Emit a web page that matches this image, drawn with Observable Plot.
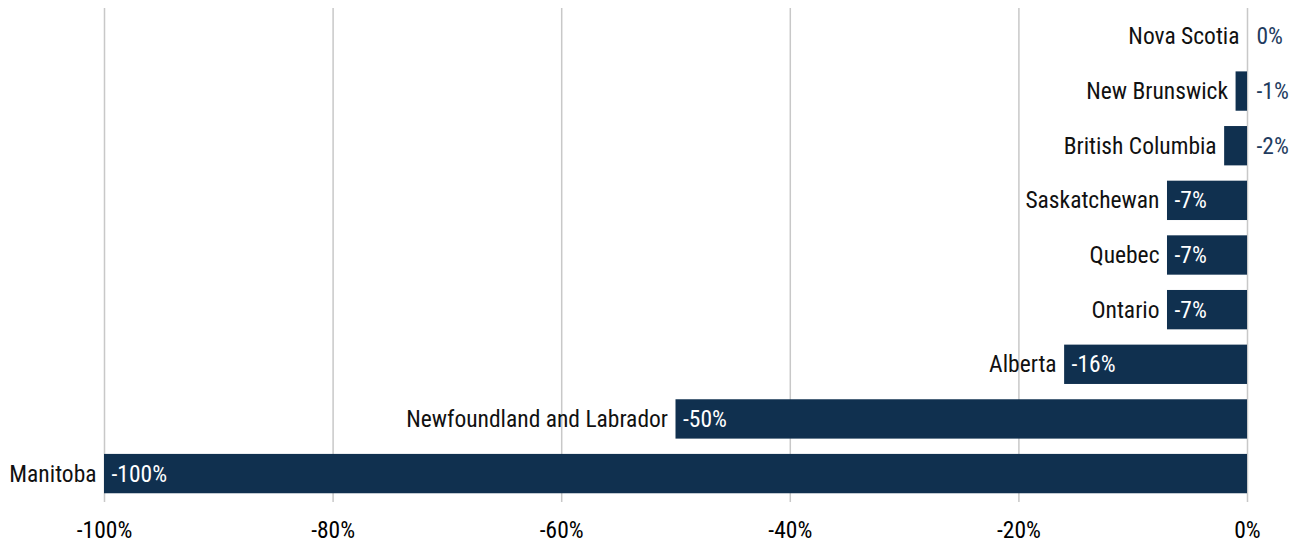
<!DOCTYPE html>
<html>
<head>
<meta charset="utf-8">
<script src="https://cdn.jsdelivr.net/npm/d3@7"></script>
<script src="https://cdn.jsdelivr.net/npm/@observablehq/plot@0.6"></script>
<style>
  html, body { margin: 0; padding: 0; background: #fff; }
  #chart svg, #chart svg text { font-family: Roboto, sans-serif; font-stretch: 75%; }
</style>
</head>
<body>
<div id="chart"></div>
<script>
const provinces = ["Nova Scotia", "New Brunswick", "British Columbia", "Saskatchewan", "Quebec", "Ontario", "Alberta", "Newfoundland and Labrador", "Manitoba"];
const changes = [0, -1, -2, -7, -7, -7, -16, -50, -100];
const xTicks = [-100, -80, -60, -40, -20, 0];

const navy = "#10304f";
const data = provinces.map((p, i) => ({province: p, value: changes[i]}));
const inside = data.filter(d => Math.abs(d.value) >= 5);
const outside = data.filter(d => Math.abs(d.value) < 5);

const chart = Plot.plot({
  width: 1301,
  height: 544,
  marginTop: 8,
  marginBottom: 42,
  marginLeft: 104,
  marginRight: 54,
  style: {fontSize: "23.5px", overflow: "visible"},
  x: {domain: [-100, 0], ticks: xTicks, tickFormat: d => d + "%", label: null, tickSize: 0, tickPadding: 19},
  y: {domain: provinces, paddingInner: 0.28, paddingOuter: 0.16, round: false, axis: null, label: null},
  marks: [
    Plot.ruleX(xTicks, {stroke: "#c8c8c8", strokeWidth: 1.5}),
    Plot.barX(data, {x1: 0, x2: "value", y: "province", fill: navy}),
    Plot.text(data, {x: "value", y: "province", text: "province", textAnchor: "end", dx: -8, fill: "#111", fontSize: 23.5}),
    Plot.text(inside, {x: "value", y: "province", text: d => d.value + "%", textAnchor: "start", dx: 7, fill: "#fff", fontSize: 23.5}),
    Plot.text(outside, {x: 0, y: "province", text: d => d.value + "%", textAnchor: "start", dx: 9, fill: "#1f3c60", fontSize: 23.5})
  ]
});
document.getElementById("chart").appendChild(chart);
</script>
</body>
</html>
